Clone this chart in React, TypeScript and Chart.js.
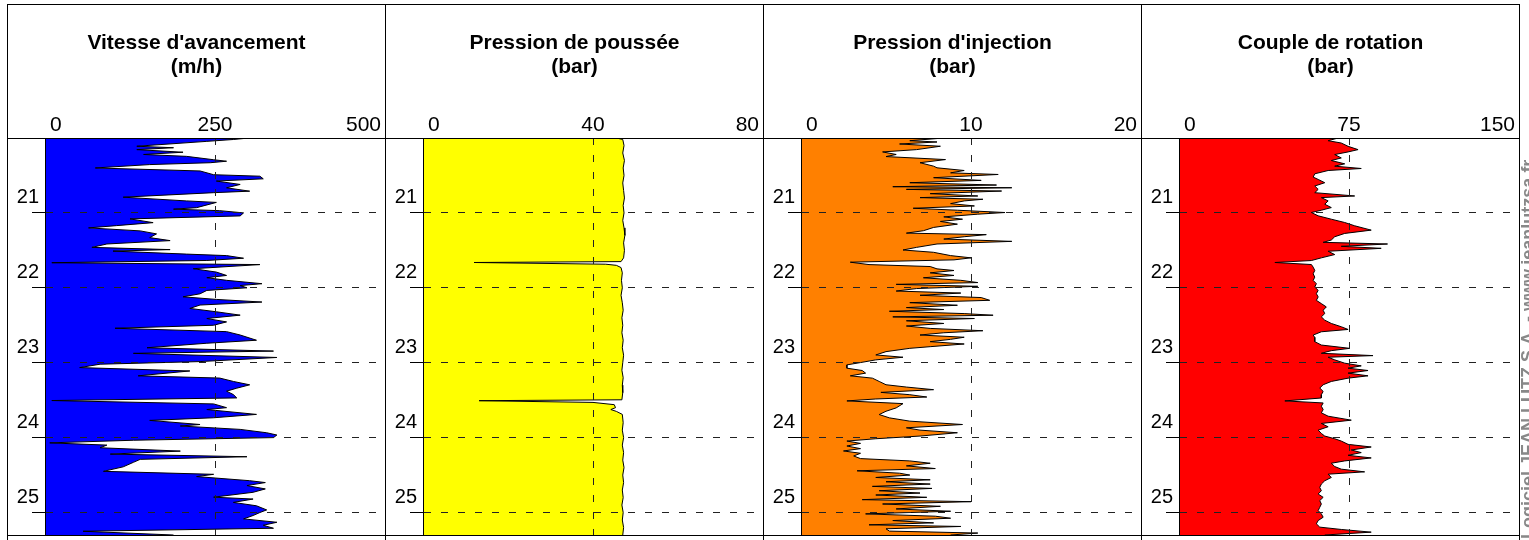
import React, { useEffect, useRef } from "react";
import { Chart, registerables } from "chart.js";

Chart.register(...registerables);

const FONT = "'Liberation Sans', Arial, Helvetica, sans-serif";

// Depth axis (m)
const DEPTH_MIN = 20;
const DEPTH_MAX = 25.3;
const DEPTH_TICKS = [21, 22, 23, 24, 25];

// Vitesse d'avancement (m/h)
const speedDepths = [20.00,20.02,20.045,20.11,20.13,20.155,20.19,20.22,20.245,20.29,20.31,20.33,20.355,20.40,20.44,20.49,20.51,20.545,20.575,20.62,20.665,20.71,20.73,20.79,20.84,20.86,20.93,20.95,20.97,21.00,21.04,21.08,21.13,21.17,21.20,21.24,21.28,21.33,21.37,21.415,21.46,21.49,21.51,21.55,21.57,21.605,21.635,21.665,21.69,21.745,21.79,21.835,21.865,21.90,21.945,21.97,22.00,22.035,22.08,22.12,22.155,22.19,22.23,22.275,22.32,22.365,22.41,22.455,22.50,22.54,22.585,22.63,22.70,22.74,22.80,22.845,22.875,22.93,22.985,23.02,23.065,23.11,23.175,23.205,23.25,23.295,23.34,23.38,23.425,23.47,23.505,23.55,23.60,23.625,23.69,23.735,23.77,23.825,23.845,23.89,23.935,23.965,24.00,24.035,24.07,24.10,24.135,24.18,24.22,24.255,24.29,24.33,24.39,24.45,24.49,24.52,24.575,24.60,24.64,24.685,24.73,24.795,24.82,24.865,24.91,24.965,25.00,25.04,25.085,25.13,25.17,25.21,25.25,25.30];
const speedValues = [300,277,238,135,189,135,203,145,208,248,267,243,154,74,228,248,316,321,252,287,267,301,248,115,208,252,223,189,257,292,287,125,159,105,64,140,164,154,184,91,69,184,100,208,267,292,238,10,316,218,252,267,238,267,319,287,297,238,228,203,252,319,228,213,252,287,238,267,248,103,267,287,311,238,150,336,130,341,228,81,51,213,137,257,277,301,282,267,277,282,10,248,267,238,311,248,154,228,199,287,326,341,336,130,7,91,81,199,96,297,140,130,115,86,248,223,301,324,297,324,306,248,306,277,311,326,316,306,292,341,321,336,56,189];
const speedTicks = [0, 250, 500];

// Pression de poussée (bar)
const pushDepths = [20.00,20.02,20.1,20.2,20.3,20.4,20.5,20.6,20.7,20.8,20.9,21.0,21.1,21.2,21.3,21.4,21.5,21.6,21.65,21.662,21.685,21.70,21.73,21.8,21.9,22.0,22.1,22.2,22.3,22.4,22.5,22.6,22.7,22.8,22.9,23.0,23.1,23.2,23.3,23.4,23.495,23.507,23.53,23.56,23.60,23.625,23.65,23.69,23.8,23.9,24.0,24.1,24.2,24.3,24.4,24.5,24.6,24.7,24.8,24.9,25.0,25.1,25.2,25.3];
const pushValues = [45.5,47.0,47.3,47.0,47.4,47.1,47.3,47.0,47.2,47.4,47.1,47.3,47.0,47.3,47.5,47.2,47.4,47.2,46.6,12.0,43.0,45.5,46.6,46.9,46.7,46.9,46.6,46.9,47.1,46.8,47.0,46.8,47.1,46.9,47.2,47.0,46.8,47.1,46.9,47.0,46.8,13.2,40.0,45.0,45.3,44.2,45.5,46.9,47.1,46.9,47.2,46.9,47.2,47.0,47.3,47.0,47.2,46.9,47.1,46.8,47.1,46.9,47.2,47.0];
const pushTicks = [0, 40, 80];

// Pression d'injection (bar)
const injDepths = [20.0,20.036,20.053,20.08,20.11,20.155,20.186,20.22,20.248,20.288,20.33,20.376,20.398,20.434,20.465,20.487,20.53,20.566,20.597,20.628,20.65,20.664,20.686,20.708,20.743,20.774,20.796,20.818,20.84,20.876,20.907,20.938,20.964,20.995,21.017,21.053,21.084,21.114,21.15,21.194,21.238,21.27,21.29,21.318,21.349,21.38,21.415,21.46,21.495,21.526,21.57,21.60,21.627,21.658,21.69,21.716,21.747,21.769,21.80,21.835,21.866,21.90,21.93,21.954,21.98,22.01,22.043,22.07,22.10,22.13,22.167,22.198,22.233,22.264,22.29,22.313,22.344,22.366,22.388,22.41,22.44,22.476,22.51,22.542,22.573,22.60,22.63,22.66,22.688,22.719,22.75,22.786,22.808,22.852,22.896,22.927,22.962,22.998,23.029,23.073,23.104,23.139,23.175,23.206,23.25,23.294,23.325,23.36,23.396,23.427,23.458,23.484,23.51,23.546,23.603,23.648,23.692,23.736,23.78,23.825,23.869,23.90,23.935,23.979,24.015,24.046,24.077,24.112,24.147,24.178,24.209,24.245,24.28,24.311,24.342,24.377,24.413,24.443,24.475,24.50,24.532,24.563,24.589,24.62,24.651,24.678,24.709,24.74,24.766,24.797,24.828,24.855,24.886,24.917,24.952,24.983,25.018,25.049,25.076,25.107,25.138,25.164,25.186,25.217,25.248,25.274,25.30];
const injValues = [8.4,6.4,8.0,5.8,8.2,6.8,4.8,5.6,5.0,8.5,7.0,7.8,8.0,9.6,8.8,11.6,7.8,10.6,6.4,11.5,5.4,12.4,6.2,11.8,7.6,10.4,7.0,10.7,9.6,8.8,10.2,6.6,9.2,12.0,10.4,8.4,9.5,8.2,9.2,7.8,7.2,6.2,10.9,9.6,8.4,12.4,8.0,6.8,6.0,7.8,8.8,10.0,9.0,2.9,4.0,7.6,8.0,9.0,7.6,9.0,7.2,9.4,10.4,5.6,10.4,6.8,5.6,9.4,7.0,10.6,11.1,6.4,9.2,6.2,8.4,5.2,9.6,11.3,5.4,10.2,6.2,8.4,6.2,7.6,10.7,8.4,7.0,9.6,8.8,7.6,9.6,7.6,6.4,5.0,4.4,6.0,4.4,3.5,2.7,2.7,3.6,3.8,2.9,4.2,4.6,5.0,6.2,7.8,4.7,6.4,7.4,4.4,2.7,6.0,5.6,5.0,4.6,5.2,6.4,9.5,6.2,7.0,9.2,7.0,4.4,2.7,3.5,2.7,3.5,2.5,3.5,3.1,3.5,6.4,7.6,6.2,7.9,3.3,5.8,6.4,4.4,7.6,5.0,7.6,4.2,7.7,4.6,7.0,4.4,7.4,3.6,10.0,4.8,8.2,5.6,8.8,3.8,7.9,8.8,5.4,7.8,4.0,9.4,5.0,5.2,10.4,8.8];
const injTicks = [0, 10, 20];

// Couple de rotation (bar)
const rotDepths = [20.0,20.036,20.067,20.111,20.155,20.186,20.221,20.266,20.301,20.345,20.376,20.407,20.434,20.478,20.522,20.553,20.597,20.641,20.686,20.73,20.774,20.796,20.84,20.884,20.929,20.964,20.995,21.039,21.084,21.128,21.172,21.23,21.274,21.318,21.362,21.393,21.415,21.446,21.473,21.512,21.556,21.6,21.636,21.662,21.689,21.724,21.768,21.813,21.857,21.901,21.945,21.99,22.034,22.078,22.122,22.167,22.211,22.255,22.299,22.344,22.388,22.432,22.476,22.52,22.556,22.587,22.631,22.662,22.719,22.764,22.808,22.839,22.874,22.905,22.927,22.962,23.006,23.042,23.073,23.104,23.139,23.175,23.206,23.25,23.294,23.338,23.383,23.427,23.471,23.51,23.537,23.581,23.625,23.669,23.714,23.767,23.811,23.855,23.90,23.944,23.979,24.015,24.046,24.09,24.125,24.165,24.2,24.236,24.271,24.311,24.342,24.386,24.421,24.457,24.488,24.532,24.576,24.62,24.665,24.709,24.753,24.797,24.841,24.886,24.93,24.974,25.018,25.063,25.107,25.151,25.195,25.226,25.262,25.30];
const rotValues = [70.2,65.8,71.6,74.6,79.0,74.6,68.7,71.6,67.2,73.1,68.7,80.4,65.8,59.9,59.2,61.4,64.3,59.9,61.4,59.9,77.5,62.8,65.8,64.3,67.2,62.8,58.4,61.4,67.2,73.1,77.5,84.8,73.1,68.7,67.2,63.6,92.0,71.6,89.2,65.8,68.7,62.8,58.4,42.3,58.4,59.2,59.9,59.2,59.9,59.2,60.6,59.9,61.4,60.6,61.4,60.6,62.8,65.0,63.6,64.3,62.8,64.3,67.2,71.6,74.6,62.8,59.2,59.9,59.9,62.8,75.3,67.2,62.8,85.6,65.8,68.7,73.1,80.4,74.6,83.4,74.6,83.4,74.6,67.2,63.6,62.1,63.6,62.8,62.8,46.7,63.6,62.8,63.6,62.8,65.8,76.0,62.8,65.8,61.4,62.8,64.3,68.7,71.6,74.6,84.8,76.0,80.4,74.6,84.8,73.1,67.2,68.7,71.6,81.9,65.8,67.2,64.3,62.8,62.1,62.8,61.4,63.6,62.1,62.8,62.1,61.4,62.8,63.6,61.4,60.6,62.1,71.6,84.8,64.3];
const rotTicks = [0, 75, 150];

const WATERMARK = "Logiciel JEAN LUTZ S.A. - www.jeanlutzsa.fr";

type PanelDef = {
  title: string;
  unit: string;
  depths: number[];
  values: number[];
  ticks: number[];
  color: string;
};

const PANELS: PanelDef[] = [
  { title: "Vitesse d'avancement", unit: "(m/h)", depths: speedDepths, values: speedValues, ticks: speedTicks, color: "#0000FF" },
  { title: "Pression de poussée", unit: "(bar)", depths: pushDepths, values: pushValues, ticks: pushTicks, color: "#FFFF00" },
  { title: "Pression d'injection", unit: "(bar)", depths: injDepths, values: injValues, ticks: injTicks, color: "#FF8000" },
  { title: "Couple de rotation", unit: "(bar)", depths: rotDepths, values: rotValues, ticks: rotTicks, color: "#FF0000" },
];

const PANEL_W = 378;
const CANVAS_H = 536;
const HEADER_H = 134;
const AXIS_W = 38;
const DASH = [7, 10];

function Panel({ def, index }: { def: PanelDef; index: number }) {
  const ref = useRef<HTMLCanvasElement | null>(null);
  const last = index === PANELS.length - 1;
  const canvasW = last ? 388 : PANEL_W + 1;

  useEffect(() => {
    if (!ref.current) return;
    const tmin = def.ticks[0];
    const tmax = def.ticks[def.ticks.length - 1];
    const decor = {
      id: "decor" + index,
      afterDraw(chart: any) {
        const ctx = chart.ctx as CanvasRenderingContext2D;
        const area = chart.chartArea;
        const xs = chart.scales.x;
        ctx.save();
        ctx.fillStyle = "#000";
        ctx.textBaseline = "alphabetic";
        ctx.textAlign = "center";
        ctx.font = `bold 21px ${FONT}`;
        const cx = PANEL_W / 2 + 0.5;
        ctx.fillText(def.title, cx, 45);
        ctx.fillText(def.unit, cx, 69);
        ctx.font = `21px ${FONT}`;
        const n = def.ticks.length;
        def.ticks.forEach((v, i) => {
          const px = xs.getPixelForValue(v);
          let x = px;
          let align: CanvasTextAlign = "center";
          if (i === 0) { align = "left"; x = px + 5; }
          else if (i === n - 1) { align = "right"; x = px - 4; }
          ctx.textAlign = align;
          ctx.fillText(String(v), x, 127);
        });
        // frame
        ctx.setLineDash([]);
        ctx.strokeStyle = "#000";
        ctx.lineWidth = 1;
        ctx.beginPath();
        ctx.moveTo(0.5, 0); ctx.lineTo(0.5, CANVAS_H);
        ctx.moveTo(PANEL_W + 0.5, 0); ctx.lineTo(PANEL_W + 0.5, CANVAS_H);
        ctx.moveTo(0, 0.5); ctx.lineTo(PANEL_W + 1, 0.5);
        ctx.moveTo(0, area.top + 0.5); ctx.lineTo(PANEL_W + 1, area.top + 0.5);
        ctx.moveTo(0, area.bottom + 0.5); ctx.lineTo(PANEL_W + 1, area.bottom + 0.5);
        ctx.stroke();
        if (last) {
          ctx.save();
          ctx.translate(392.5, 535);
          ctx.rotate(-Math.PI / 2);
          ctx.font = `bold 18px ${FONT}`;
          ctx.fillStyle = "#888";
          ctx.textAlign = "left";
          ctx.fillText(WATERMARK, 0, 0);
          ctx.restore();
        }
        ctx.restore();
      },
    };

    const chart = new Chart(ref.current, {
      type: "line",
      data: {
        datasets: [
          {
            data: def.depths.map((d, i) => ({ x: def.values[i], y: d })),
            fill: "origin",
            backgroundColor: def.color,
            borderColor: "#000",
            borderWidth: 1,
            pointRadius: 0,
            tension: 0,
          },
        ],
      },
      options: {
        indexAxis: "y",
        animation: false,
        responsive: false,
        maintainAspectRatio: false,
        events: [],
        layout: { padding: { left: 0, top: 0, right: canvasW - PANEL_W, bottom: 1 } },
        plugins: { legend: { display: false }, tooltip: { enabled: false }, title: { display: false } },
        scales: {
          x: {
            type: "linear",
            position: "top",
            min: tmin,
            max: tmax,
            afterBuildTicks: (s: any) => { s.ticks = def.ticks.map((v) => ({ value: v })); },
            afterFit: (s: any) => { s.height = HEADER_H; },
            ticks: { display: false },
            grid: {
              drawTicks: false,
              z: 1,
              lineWidth: 1,
              color: (c: any) => (c.tick && c.tick.value > tmin && c.tick.value < tmax ? "#222" : "rgba(0,0,0,0)"),
            },
            border: { display: false, dash: DASH },
          },
          y: {
            type: "linear",
            position: "left",
            reverse: true,
            min: DEPTH_MIN,
            max: DEPTH_MAX,
            afterBuildTicks: (s: any) => { s.ticks = DEPTH_TICKS.map((v) => ({ value: v })); },
            afterFit: (s: any) => { s.width = AXIS_W; },
            ticks: { color: "#000", font: { family: FONT, size: 20 }, padding: -7, labelOffset: -15 },
            grid: { color: "#222", tickColor: "#000", tickLength: 13, z: 1, lineWidth: 1 },
            border: { display: true, color: "#000", width: 1, dash: DASH, z: 1 },
          },
        },
      },
      plugins: [decor],
    } as any);
    return () => chart.destroy();
  }, [def, index]);

  return (
    <canvas
      ref={ref}
      width={canvasW}
      height={CANVAS_H}
      style={{ position: "absolute", left: 7 + PANEL_W * index, top: 4, width: canvasW, height: CANVAS_H, display: "block" }}
    />
  );
}

export default function App() {
  return (
    <div style={{ position: "fixed", left: 0, top: 0, width: 1529, height: 540, background: "#fff", overflow: "hidden" }}>
      {PANELS.map((p, i) => (
        <Panel key={i} def={p} index={i} />
      ))}
    </div>
  );
}
